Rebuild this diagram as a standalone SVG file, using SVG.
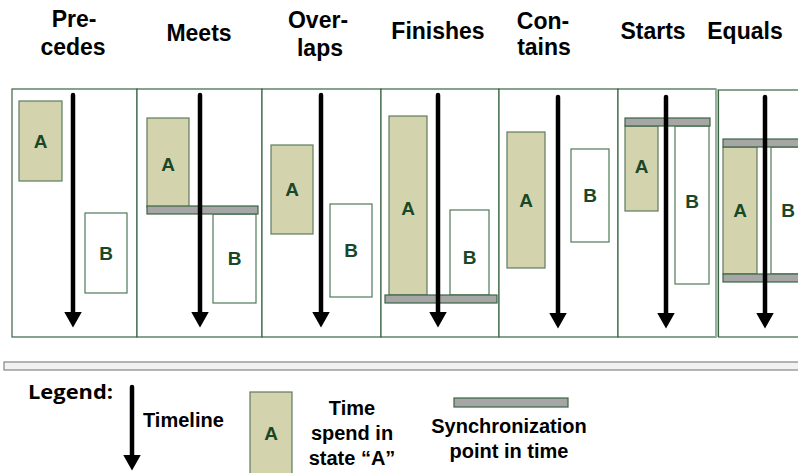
<svg xmlns="http://www.w3.org/2000/svg" width="798" height="473" viewBox="0 0 798 473">
<defs>
<style>
.hdr{font-family:"Liberation Sans",Arial,sans-serif;font-weight:bold;font-size:23px;fill:#000;text-anchor:middle}
.lg{font-family:"Liberation Sans",Arial,sans-serif;font-weight:bold;font-size:20px;fill:#000}
.lbl{font-family:"Liberation Sans",Arial,sans-serif;font-weight:bold;font-size:19px;fill:#1a4727;text-anchor:middle}
.panel{fill:#fff;stroke:#3a6444;stroke-width:1.2}
.a{fill:#d3d3ad;stroke:#5e7c60;stroke-width:1.2}
.b{fill:#fff;stroke:#4f7a57;stroke-width:1.2}
.sync{fill:#a6a6a6;stroke:#3a6444;stroke-width:1.2}
.arr{stroke:#000;stroke-width:4.5;stroke-linecap:round;fill:none;marker-end:url(#head)}
</style>
<marker id="head" viewBox="0 0 16 18" markerWidth="16" markerHeight="18" refX="0.5" refY="9" orient="auto" markerUnits="userSpaceOnUse">
<path d="M0,0 L16,9 L0,18 z" fill="#000"/>
</marker>
</defs>
<rect width="798" height="473" fill="#fff"/>

<g id="headers">
<text class="hdr" x="74" y="27">Pre-</text>
<text class="hdr" x="73" y="55">cedes</text>
<text class="hdr" x="199" y="41">Meets</text>
<text class="hdr" x="318" y="28">Over-</text>
<text class="hdr" x="320" y="56">laps</text>
<text class="hdr" x="438" y="39">Finishes</text>
<text class="hdr" x="543" y="29">Con-</text>
<text class="hdr" x="544" y="55">tains</text>
<text class="hdr" x="653" y="39">Starts</text>
<text class="hdr" x="745" y="39">Equals</text>
</g>

<g id="precedes">
<rect class="panel" x="12" y="89" width="125" height="248"/>
<rect class="a" x="19" y="101" width="43" height="80"/>
<text class="lbl" x="40.5" y="148">A</text>
<rect class="b" x="85" y="213" width="42" height="80"/>
<text class="lbl" x="106" y="260">B</text>
</g>

<g id="meets">
<rect class="panel" x="137" y="89" width="125" height="248"/>
<rect class="a" x="147" y="118" width="42" height="89"/>
<text class="lbl" x="168" y="171">A</text>
<rect class="b" x="213" y="214" width="43" height="89"/>
<text class="lbl" x="234.5" y="265">B</text>
<rect class="sync" x="147" y="206" width="111" height="8"/>
</g>

<g id="overlaps">
<rect class="panel" x="262" y="89" width="119" height="248"/>
<rect class="a" x="271" y="145" width="42" height="89"/>
<text class="lbl" x="292" y="196">A</text>
<rect class="b" x="330" y="204" width="42" height="93"/>
<text class="lbl" x="351" y="257">B</text>
</g>

<g id="finishes">
<rect class="panel" x="381" y="89" width="118" height="248"/>
<rect class="a" x="389" y="116" width="38" height="179"/>
<text class="lbl" x="408" y="215">A</text>
<rect class="b" x="450" y="210" width="39" height="85"/>
<text class="lbl" x="469.5" y="264">B</text>
<rect class="sync" x="385" y="295" width="112" height="8"/>
</g>

<g id="contains">
<rect class="panel" x="499" y="89" width="119" height="248"/>
<rect class="a" x="507" y="132" width="38" height="136"/>
<text class="lbl" x="526" y="207">A</text>
<rect class="b" x="571" y="149" width="38" height="93"/>
<text class="lbl" x="590" y="202">B</text>
</g>

<g id="starts">
<rect class="panel" x="618" y="89" width="98" height="248"/>
<line x1="716.5" y1="89" x2="716.5" y2="337" stroke="#9fb3a2" stroke-width="2.5"/>
<rect class="a" x="625" y="126" width="33" height="85"/>
<text class="lbl" x="641.5" y="173">A</text>
<rect class="b" x="675" y="126" width="34" height="158"/>
<text class="lbl" x="692" y="208">B</text>
<rect class="sync" x="625" y="118" width="85" height="8"/>
</g>

<g id="equals">
<rect class="panel" x="718.5" y="90" width="90" height="247"/>
<rect class="a" x="723" y="147" width="34" height="127"/>
<text class="lbl" x="740" y="217">A</text>
<rect class="b" x="771" y="147" width="40" height="127"/>
<text class="lbl" x="788" y="217">B</text>
<rect class="sync" x="723" y="139" width="85" height="8"/>
<rect class="sync" x="723" y="274" width="85" height="8"/>
</g>

<g id="separator">
<rect x="4" y="362" width="810" height="8" fill="#f2f2f2" stroke="#858585" stroke-width="1.2"/>
</g>

<g id="legend">
<text x="28" y="399" font-family="'Open Sans','Liberation Sans',sans-serif" font-weight="bold" font-size="20" textLength="85" lengthAdjust="spacingAndGlyphs">Legend:</text>
<text class="lg" x="143" y="427">Timeline</text>
<rect class="a" x="250" y="392" width="42" height="82"/>
<text class="lbl" x="271" y="440">A</text>
<text class="lg" x="352" y="415" text-anchor="middle">Time</text>
<text class="lg" x="352" y="440" text-anchor="middle">spend in</text>
<text class="lg" x="352" y="465" text-anchor="middle">state “A”</text>
<rect class="sync" x="454" y="398" width="114" height="9"/>
<text class="lg" x="509" y="433" text-anchor="middle">Synchronization</text>
<text class="lg" x="509" y="458" text-anchor="middle">point in time</text>
</g>

<g id="connectors">
<line class="arr" x1="73" y1="95" x2="73" y2="312"/>
<line class="arr" x1="200" y1="95" x2="200" y2="312"/>
<line class="arr" x1="321" y1="95" x2="321" y2="312"/>
<line class="arr" x1="438" y1="95" x2="438" y2="312"/>
<line class="arr" x1="558" y1="97" x2="558" y2="313"/>
<line class="arr" x1="666" y1="97" x2="666" y2="313"/>
<line class="arr" x1="765" y1="97" x2="765" y2="313"/>
<line class="arr" x1="132" y1="387" x2="132" y2="455"/>
</g>
</svg>
